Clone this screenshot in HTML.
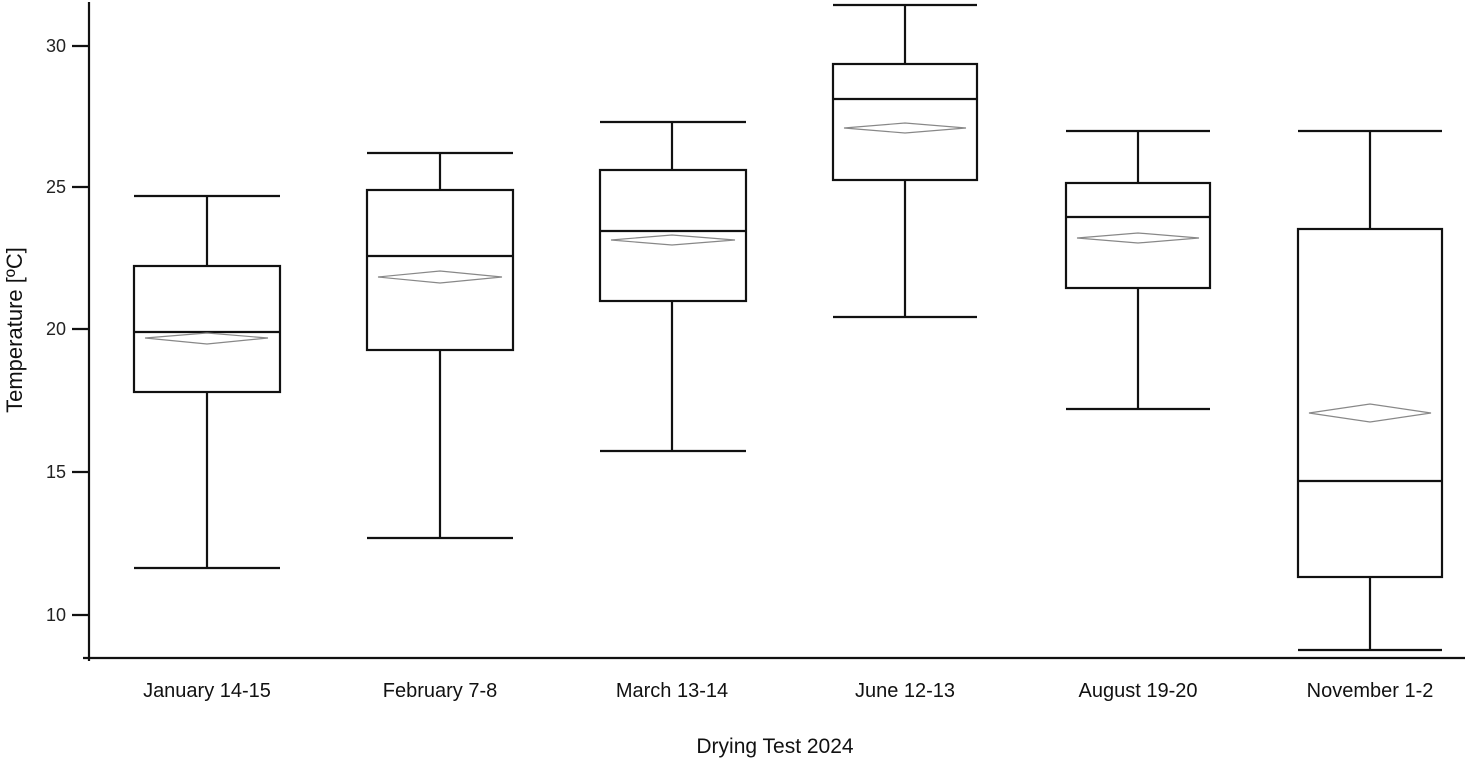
<!DOCTYPE html>
<html><head><meta charset="utf-8"><style>
html,body{margin:0;padding:0;background:#fff}
svg{display:block;font-family:"Liberation Sans",Arial,sans-serif}
</style></head><body>
<svg width="1465" height="770" viewBox="0 0 1465 770">
<g stroke="#111" stroke-width="2.2" fill="none">
<line x1="89" y1="2" x2="89" y2="661"/>
<line x1="83" y1="658" x2="1465" y2="658"/>
<line x1="72" y1="46" x2="89" y2="46"/>
<line x1="72" y1="187" x2="89" y2="187"/>
<line x1="72" y1="329" x2="89" y2="329"/>
<line x1="72" y1="472" x2="89" y2="472"/>
<line x1="72" y1="615" x2="89" y2="615"/>
</g>
<g font-size="18" fill="#222" text-anchor="end">
<text x="66" y="52">30</text><text x="66" y="193">25</text><text x="66" y="335">20</text><text x="66" y="478">15</text><text x="66" y="621">10</text>
</g>
<text x="22" y="330" font-size="22" fill="#111" text-anchor="middle" transform="rotate(-90 22 330)">Temperature [ºC]</text>
<g font-size="20" fill="#111" text-anchor="middle">
<text x="207" y="697">January 14-15</text>
<text x="440" y="697">February 7-8</text>
<text x="672" y="697">March 13-14</text>
<text x="905" y="697">June 12-13</text>
<text x="1138" y="697">August 19-20</text>
<text x="1370" y="697">November 1-2</text>
</g>
<text x="775" y="753" font-size="21" fill="#111" text-anchor="middle">Drying Test 2024</text>
<g stroke="#111" stroke-width="2.2" fill="none">
<line x1="134" y1="196" x2="280" y2="196"/><line x1="207" y1="196" x2="207" y2="266"/>
<rect x="134" y="266" width="146" height="126"/>
<line x1="134" y1="332" x2="280" y2="332"/>
<line x1="207" y1="392" x2="207" y2="568"/><line x1="134" y1="568" x2="280" y2="568"/>
<line x1="367" y1="153" x2="513" y2="153"/><line x1="440" y1="153" x2="440" y2="190"/>
<rect x="367" y="190" width="146" height="160"/>
<line x1="367" y1="256" x2="513" y2="256"/>
<line x1="440" y1="350" x2="440" y2="538"/><line x1="367" y1="538" x2="513" y2="538"/>
<line x1="600" y1="122" x2="746" y2="122"/><line x1="672" y1="122" x2="672" y2="170"/>
<rect x="600" y="170" width="146" height="131"/>
<line x1="600" y1="231" x2="746" y2="231"/>
<line x1="672" y1="301" x2="672" y2="451"/><line x1="600" y1="451" x2="746" y2="451"/>
<line x1="833" y1="5" x2="977" y2="5"/><line x1="905" y1="5" x2="905" y2="64"/>
<rect x="833" y="64" width="144" height="116"/>
<line x1="833" y1="99" x2="977" y2="99"/>
<line x1="905" y1="180" x2="905" y2="317"/><line x1="833" y1="317" x2="977" y2="317"/>
<line x1="1066" y1="131" x2="1210" y2="131"/><line x1="1138" y1="131" x2="1138" y2="183"/>
<rect x="1066" y="183" width="144" height="105"/>
<line x1="1066" y1="217" x2="1210" y2="217"/>
<line x1="1138" y1="288" x2="1138" y2="409"/><line x1="1066" y1="409" x2="1210" y2="409"/>
<line x1="1298" y1="131" x2="1442" y2="131"/><line x1="1370" y1="131" x2="1370" y2="229"/>
<rect x="1298" y="229" width="144" height="348"/>
<line x1="1298" y1="481" x2="1442" y2="481"/>
<line x1="1370" y1="577" x2="1370" y2="650"/><line x1="1298" y1="650" x2="1442" y2="650"/>
</g>
<g stroke="#888" stroke-width="1.2" fill="#fff">
<polygon points="145,338 207,333 268,338 207,344"/>
<polygon points="378,277 440,271 502,277 440,283"/>
<polygon points="611,240 672,235 735,240 672,245"/>
<polygon points="844,128 905,123 966,128 905,133"/>
<polygon points="1077,238 1138,233 1199,238 1138,243"/>
<polygon points="1309,413 1370,404 1431,413 1370,422"/>
</g>
</svg>
</body></html>
